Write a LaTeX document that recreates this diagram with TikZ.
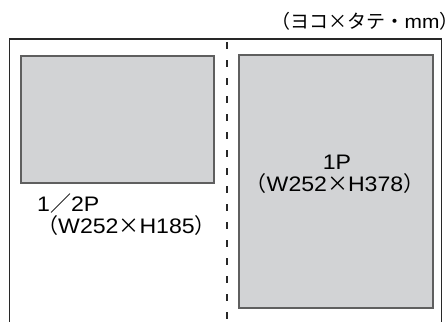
\documentclass[tikz,border=0pt]{standalone}
\usepackage{fontspec}
\setmainfont{Liberation Sans}[FakeStretch=1.1]
\newfontfamily\jp{Noto Sans CJK JP}
\definecolor{pagegray}{RGB}{210,211,213}
\definecolor{pageedge}{RGB}{95,95,95}
\definecolor{frameline}{RGB}{40,40,40}
\begin{document}
\begin{tikzpicture}[x=1pt,y=-1pt,
  page/.style={draw=pageedge,fill=pagegray,line width=2pt,inner sep=0pt},
  lbl/.style={font=\fontsize{21}{23}\selectfont,inner sep=0pt,text=black}]
\useasboundingbox (0,0) rectangle (446,321);
\draw[frameline,line width=1.3pt] (9.5,330) -- (9.5,39) -- (441.5,39) -- (441.5,330);
\draw[frameline,line width=1.6pt,dash pattern=on 7pt off 11pt] (227,42) -- (227,321);
\node[page,minimum width=193pt,minimum height=127pt] (half) at (117.5,119.5) {};
\node[page,minimum width=194pt,minimum height=253pt] (full) at (336,181.5) {};
\node[lbl,anchor=base west] (halflbl) at (37,211) {1{\jp ／}2P};
\node[lbl,anchor=base west] (halfsize) at (37,233) {{\jp （}W252{\jp ×}H185{\jp ）}};
\node[lbl,anchor=base] (fulllbl) at (337,169) {1P};
\node[lbl,anchor=base] (fullsize) at (335,191) {{\jp （}W252{\jp ×}H378{\jp ）}};
\node[lbl,anchor=base west,font=\fontsize{19}{21}\selectfont] (unit) at (271.5,28.5) {{\jp （ヨコ×タテ・}mm{\jp ）}};
\end{tikzpicture}
\end{document}
